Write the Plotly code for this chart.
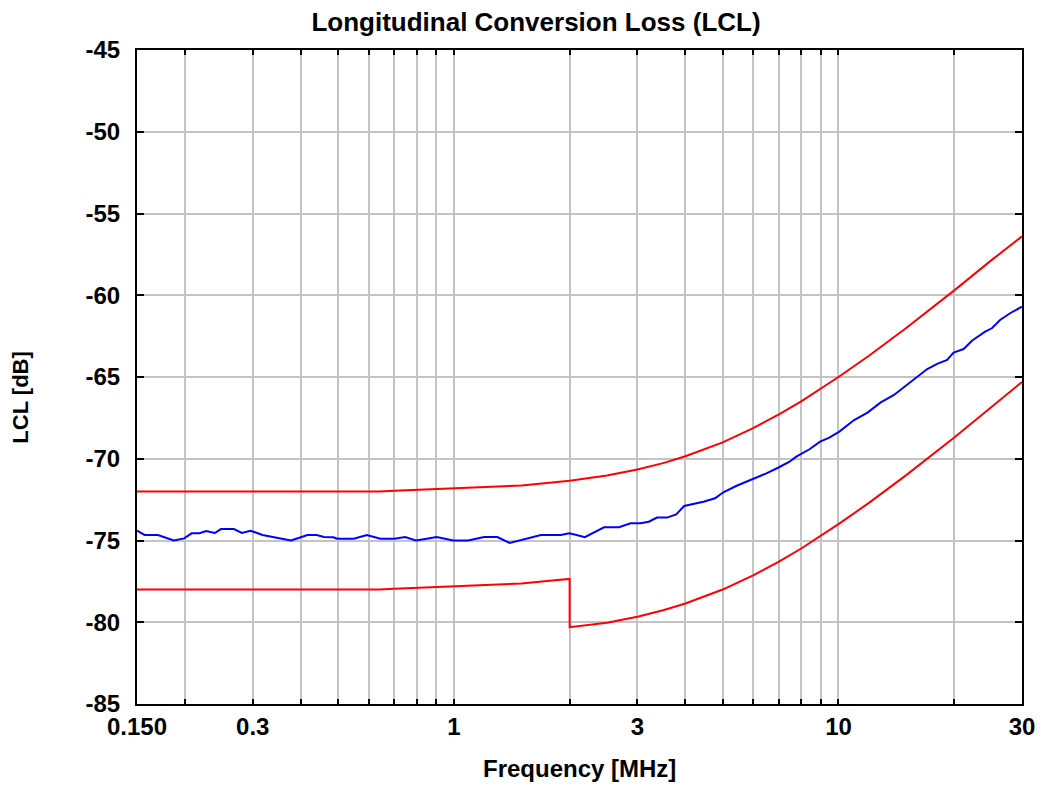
import math
import plotly.graph_objects as go

# ---- data ----
meas_freq = [0.150, 0.157, 0.170, 0.187, 0.199, 0.208, 0.218, 0.227, 0.239, 0.248,
             0.268, 0.281, 0.296, 0.318, 0.341, 0.377, 0.400, 0.416, 0.440, 0.459,
             0.486, 0.497, 0.549, 0.583, 0.594, 0.644, 0.701, 0.747, 0.796, 0.850,
             0.902, 0.996, 1.089, 1.198, 1.297, 1.396, 1.481, 1.581, 1.684, 1.897,
             1.995, 2.097, 2.190, 2.457, 2.687, 2.879, 3.056, 3.212, 3.374, 3.582,
             3.785, 3.970, 4.198, 4.457, 4.775, 5.019, 5.434, 6.002, 6.495, 6.963,
             7.461, 7.767, 8.243, 8.406, 8.958, 9.467, 10.05, 10.98, 11.90, 12.88,
             13.94, 15.10, 16.02, 17.01, 18.05, 19.16, 19.92, 21.15, 22.23, 24.06,
             25.05, 26.31, 27.93, 29.35, 30.0]
meas_lcl = [-74.40, -74.66, -74.66, -75.00, -74.87, -74.56, -74.56, -74.42, -74.54, -74.30,
            -74.30, -74.54, -74.40, -74.66, -74.80, -75.00, -74.80, -74.66, -74.66, -74.79,
            -74.80, -74.89, -74.89, -74.75, -74.66, -74.89, -74.89, -74.79, -75.00, -74.89,
            -74.79, -75.00, -75.00, -74.79, -74.79, -75.15, -75.00, -74.80, -74.66, -74.66,
            -74.56, -74.68, -74.80, -74.19, -74.19, -73.95, -73.95, -73.85, -73.60, -73.60,
            -73.40, -72.89, -72.77, -72.63, -72.42, -72.05, -71.65, -71.24, -70.89, -70.55,
            -70.18, -69.87, -69.53, -69.42, -68.95, -68.71, -68.34, -67.63, -67.18, -66.55,
            -66.10, -65.45, -65.02, -64.51, -64.20, -63.96, -63.51, -63.29, -62.78, -62.23,
            -62.02, -61.51, -61.10, -60.80, -60.70]

upper_freq = [0.150, 0.64, 0.70, 0.80, 1.0, 1.3, 1.5, 2.0, 2.5, 3.0, 3.5, 4.0, 5.0,
              6.0, 7.0, 8.0, 10.0, 12.0, 15.0, 20.0, 25.0, 30.0]
upper_lcl = [-72.0, -72.0, -71.95, -71.9, -71.8, -71.7, -71.63, -71.35, -71.03, -70.66,
             -70.27, -69.85, -69.0, -68.13, -67.29, -66.49, -65.0, -63.7, -62.0, -59.7,
             -57.85, -56.4]

lower_freq = [0.150, 0.64, 0.70, 0.80, 1.0, 1.3, 1.5, 1.8, 2.0, 2.0, 2.5, 3.0, 3.5,
              4.0, 5.0, 6.0, 7.0, 8.0, 10.0, 12.0, 15.0, 20.0, 25.0, 30.0]
lower_lcl = [-78.0, -78.0, -77.95, -77.9, -77.8, -77.7, -77.63, -77.45, -77.35, -80.3,
             -80.03, -79.66, -79.27, -78.85, -78.0, -77.13, -76.29, -75.49, -74.0, -72.7,
             -71.0, -68.7, -66.85, -65.3]

x_grid = [0.15, 0.2, 0.3, 0.4, 0.5, 0.6, 0.7, 0.8, 0.9, 1, 2, 3, 4, 5, 6, 7, 8, 9,
          10, 20, 30]
x_labels = {0.15: "0.150", 0.3: "0.3", 1: "1", 3: "3", 10: "10", 30: "30"}
y_ticks = [-85, -80, -75, -70, -65, -60, -55, -50, -45]

FONT = "Liberation Sans"
W, H = 1047, 787
L, R, T, B = 137, 20, 50, 83
PW, PH = W - L - R, H - T - B

fig = go.Figure()
fig.add_trace(go.Scatter(x=upper_freq, y=upper_lcl, mode="lines",
                         line=dict(color="#ff0000", width=2), showlegend=False))
fig.add_trace(go.Scatter(x=lower_freq, y=lower_lcl, mode="lines",
                         line=dict(color="#ff0000", width=2), showlegend=False))
fig.add_trace(go.Scatter(x=meas_freq, y=meas_lcl, mode="lines",
                         line=dict(color="#0000ff", width=2), showlegend=False))

fig.update_layout(
    width=W, height=H,
    margin=dict(l=L, r=R, t=T, b=B),
    paper_bgcolor="white", plot_bgcolor="white",
    font=dict(family=FONT, size=24, color="black"),
    title=dict(text="Longitudinal Conversion Loss (LCL)", x=536 / W, xanchor="center",
               y=1 - 22 / H, yanchor="middle",
               font=dict(family=FONT, size=26, weight="bold", color="black")),
)
fig.update_xaxes(
    type="log", range=[math.log10(0.15), math.log10(30)],
    tickmode="array", tickvals=x_grid,
    ticktext=[x_labels.get(v, "") for v in x_grid],
    showgrid=True, gridcolor="#c4c4c4", gridwidth=2,
    showline=True, linecolor="black", linewidth=2, mirror="allticks",
    ticks="inside", ticklen=5, tickwidth=2, tickcolor="black",
    tickfont=dict(family=FONT, size=24, weight="bold"),
    zeroline=False,
)
fig.update_yaxes(
    range=[-85, -45], tickmode="array", tickvals=y_ticks,
    ticktext=[str(v) for v in y_ticks],
    showgrid=True, gridcolor="#c4c4c4", gridwidth=2,
    showline=True, linecolor="black", linewidth=2, mirror="allticks",
    ticks="inside", ticklen=7, tickwidth=2, tickcolor="black",
    tickfont=dict(family=FONT, size=24, weight="bold"),
    ticklabelstandoff=10,
    zeroline=False,
)
fig.add_annotation(text="Frequency [MHz]", xref="paper", yref="paper",
                   x=0.5, y=-(768 - (H - B)) / PH, xanchor="center", yanchor="middle",
                   showarrow=False, font=dict(family=FONT, size=24, weight="bold"))
fig.add_annotation(text="LCL [dB]", xref="paper", yref="paper",
                   x=-(L - 20) / PW, y=((H - B) - 398) / PH, xanchor="center", yanchor="middle",
                   textangle=-90, showarrow=False,
                   font=dict(family=FONT, size=22, weight="bold"))

fig.write_html("out.html",
               config={"displayModeBar": False},
               post_script="document.body.style.margin='0';"
                           "document.documentElement.style.overflow='hidden';")
